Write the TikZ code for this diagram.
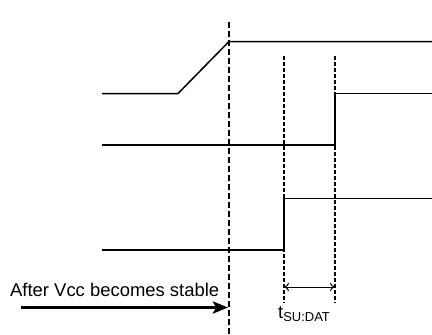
\documentclass[tikz,border=0pt]{standalone}
\usepackage{fontspec}
\setmainfont{Liberation Sans}
\usetikzlibrary{arrows,arrows.meta,positioning}
\begin{document}
\begin{tikzpicture}[x=1bp,y=-1bp]
    \tikzset{signal/.style = {line width=1.5bp}}
    \tikzset{marker/.style = {line width=2.2bp,dash pattern=on 6bp off 3bp}}
    \tikzset{guide/.style = {line width=1.1bp,dash pattern=on 4bp off 2bp}}
    \tikzset{label/.style = {font=\fontsize{18.5}{20}\selectfont,inner sep=0pt}}
    \useasboundingbox (0,0) rectangle (432,335);
    % first signal
    \coordinate (a0) at (102,93.5);
    \coordinate (a1) at (178,93.5);
    \coordinate (a2) at (229,41.5);
    \coordinate (a3) at (432,41.5);
    % second signal
    \coordinate (b0) at (102,145);
    \coordinate (b1) at (335,145);
    \coordinate (b2) at (335,93.5);
    \coordinate (b3) at (432,93.5);
    % third signal
    \coordinate (c0) at (102,250);
    \coordinate (c1) at (284,250);
    \coordinate (c2) at (284,198.5);
    \coordinate (c3) at (432,198.5);
    % time marks
    \coordinate (m0) at (229,22);
    \coordinate (m1) at (229,335);
    \coordinate (g0) at (284,56);
    \coordinate (g1) at (284,303);
    \coordinate (h0) at (335,56);
    \coordinate (h1) at (335,303);
    \coordinate (s0) at (284,287);
    \coordinate (s1) at (335,287);
    \coordinate (p0) at (21,307.5);
    \coordinate (p1) at (228,307.5);
    % labels
    \node[label,anchor=base west] (stable) at (10,296) {After Vcc becomes stable};
    \node[label,anchor=base west] (tsu) at (278,318)
        {t\raisebox{-3bp}{\fontsize{13}{14}\selectfont SU:DAT}};
    \draw[signal] (a0) -- (a1) -- (a2) -- (a3);
    \draw[signal] (b0) -- (b1) -- (b2) -- (b3);
    \draw[signal] (c0) -- (c1) -- (c2) -- (c3);
    \draw[marker] (m0) -- (m1);
    \draw[guide] (g0) -- (g1);
    \draw[guide] (h0) -- (h1);
    \draw[{To[length=5bp,width=8bp]}-{To[length=5bp,width=8bp]},line width=1bp] (s0) -- (s1);
    \draw[-{Stealth[length=15bp,width=12bp,inset=3bp]},line width=3bp] (p0) -- (p1);
\end{tikzpicture}
\end{document}
